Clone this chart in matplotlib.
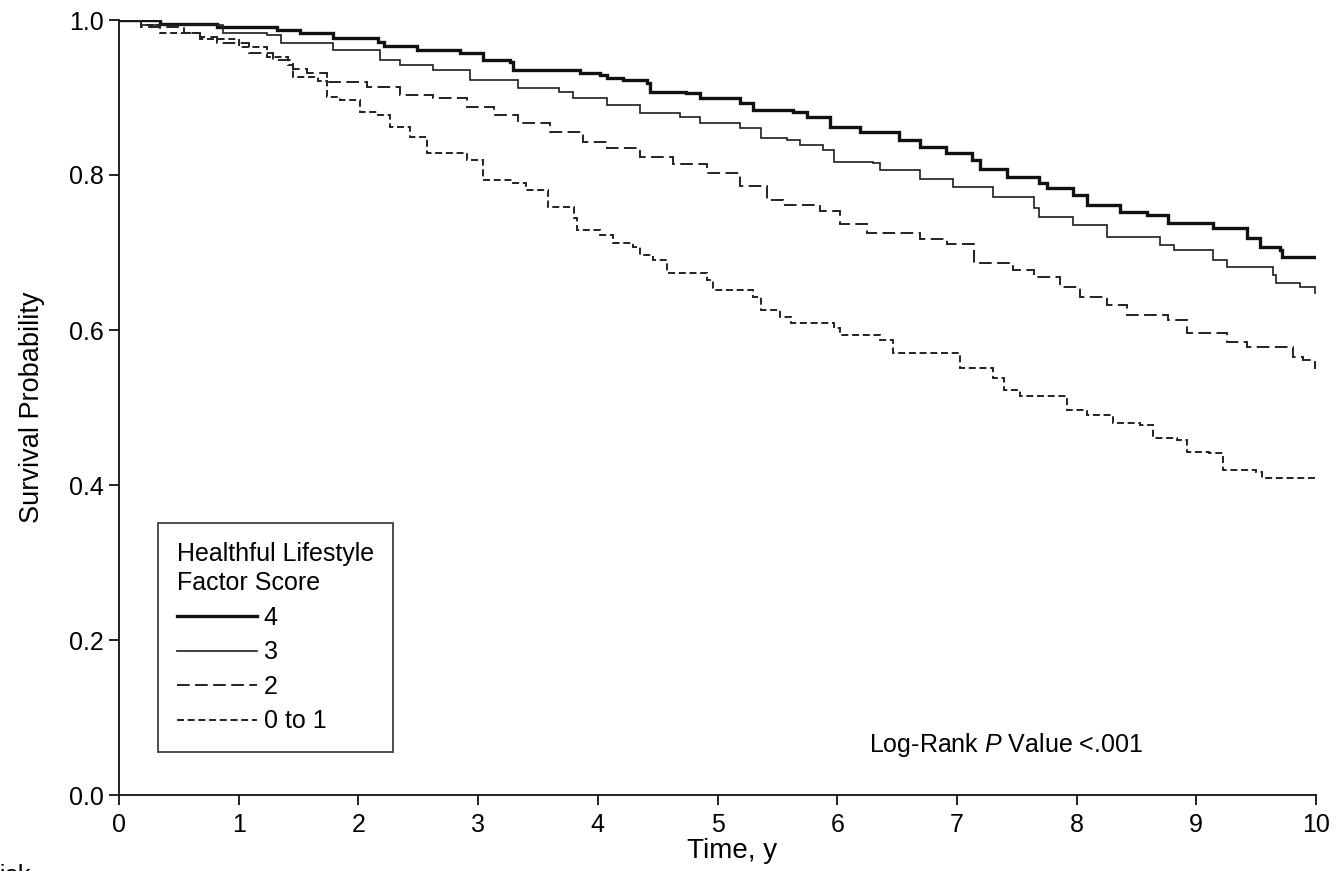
import matplotlib
matplotlib.use("Agg")
import matplotlib.pyplot as plt
from matplotlib.lines import Line2D

plt.rcParams["font.family"] = ["Liberation Sans", "DejaVu Sans"]
plt.rcParams["mathtext.fontset"] = "custom"
plt.rcParams["mathtext.it"] = "Liberation Sans:italic"
plt.rcParams["mathtext.rm"] = "Liberation Sans"

# Kaplan-Meier step points (time in years, survival probability)
t_score4 = [0, 0.34, 0.82, 1.32, 1.51, 1.79, 2.16, 2.21, 2.49, 2.85, 3.04, 3.27, 3.29,
            3.85, 4.02, 4.08, 4.21, 4.41, 4.44, 4.74, 4.85, 5.19, 5.30, 5.63, 5.75,
            5.94, 6.19, 6.52, 6.69, 6.91, 7.13, 7.19, 7.42, 7.69, 7.75, 7.97, 8.09,
            8.36, 8.59, 8.76, 9.14, 9.42, 9.53, 9.70, 9.72, 10.0]
s_score4 = [1.0, 0.995, 0.991, 0.987, 0.983, 0.977, 0.972, 0.966, 0.961, 0.957, 0.948,
            0.946, 0.936, 0.932, 0.929, 0.925, 0.923, 0.919, 0.907, 0.906, 0.899, 0.893,
            0.884, 0.881, 0.875, 0.862, 0.855, 0.845, 0.836, 0.829, 0.819, 0.808, 0.797,
            0.790, 0.783, 0.774, 0.761, 0.752, 0.748, 0.738, 0.732, 0.719, 0.707, 0.703,
            0.694, 0.694]

t_score3 = [0, 0.18, 0.87, 1.24, 1.35, 1.79, 2.18, 2.35, 2.62, 2.93, 3.33, 3.68, 3.79,
            4.08, 4.35, 4.69, 4.85, 5.19, 5.36, 5.58, 5.69, 5.88, 5.97, 6.30, 6.36,
            6.69, 6.97, 7.30, 7.64, 7.69, 7.97, 8.25, 8.70, 8.81, 9.14, 9.26, 9.64,
            9.67, 9.87, 9.99, 10.0]
s_score3 = [1.0, 0.993, 0.983, 0.981, 0.970, 0.961, 0.948, 0.942, 0.935, 0.923, 0.912,
            0.907, 0.899, 0.890, 0.880, 0.875, 0.867, 0.861, 0.848, 0.845, 0.839, 0.832,
            0.817, 0.815, 0.806, 0.795, 0.785, 0.772, 0.757, 0.746, 0.735, 0.720, 0.710,
            0.703, 0.690, 0.681, 0.671, 0.661, 0.655, 0.648, 0.648]

t_score2 = [0, 0.18, 0.54, 0.68, 0.82, 1.09, 1.29, 1.45, 1.57, 1.74, 2.07, 2.35, 2.62,
            2.91, 3.13, 3.33, 3.60, 3.88, 4.08, 4.35, 4.63, 4.91, 5.19, 5.41, 5.55,
            5.86, 6.02, 6.25, 6.69, 6.92, 7.14, 7.47, 7.64, 7.86, 8.03, 8.25, 8.42,
            8.76, 8.92, 9.26, 9.42, 9.81, 9.89, 9.99, 10.0]
s_score2 = [1.0, 0.991, 0.983, 0.978, 0.970, 0.957, 0.948, 0.937, 0.932, 0.920, 0.914,
            0.903, 0.899, 0.888, 0.877, 0.867, 0.855, 0.843, 0.835, 0.823, 0.814, 0.803,
            0.786, 0.768, 0.761, 0.754, 0.737, 0.725, 0.717, 0.711, 0.686, 0.677, 0.668,
            0.655, 0.642, 0.632, 0.619, 0.613, 0.596, 0.585, 0.578, 0.565, 0.561, 0.551,
            0.551]

t_score01 = [0, 0.18, 0.34, 0.68, 1.00, 1.24, 1.41, 1.45, 1.66, 1.74, 1.85, 2.01, 2.16,
             2.26, 2.43, 2.57, 2.91, 3.04, 3.29, 3.40, 3.58, 3.80, 3.83, 4.02, 4.13,
             4.29, 4.35, 4.46, 4.58, 4.91, 4.96, 5.30, 5.36, 5.52, 5.61, 5.97, 6.02,
             6.36, 6.47, 7.03, 7.30, 7.39, 7.53, 7.92, 8.09, 8.30, 8.53, 8.64, 8.84,
             8.92, 9.11, 9.22, 9.50, 9.55, 10.0]
s_score01 = [1.0, 0.994, 0.983, 0.976, 0.965, 0.952, 0.942, 0.926, 0.921, 0.900, 0.897,
             0.881, 0.877, 0.862, 0.849, 0.828, 0.819, 0.794, 0.790, 0.781, 0.759, 0.745,
             0.729, 0.723, 0.712, 0.707, 0.697, 0.690, 0.674, 0.665, 0.652, 0.643, 0.626,
             0.617, 0.609, 0.603, 0.594, 0.587, 0.570, 0.551, 0.538, 0.523, 0.515, 0.497,
             0.490, 0.480, 0.477, 0.461, 0.458, 0.443, 0.441, 0.419, 0.417, 0.409, 0.409]

x_ticks = [0, 1, 2, 3, 4, 5, 6, 7, 8, 9, 10]
y_ticks = [0.0, 0.2, 0.4, 0.6, 0.8, 1.0]
legend_labels = ["4", "3", "2", "0 to 1"]

W, H = 1337, 871
fig = plt.figure(figsize=(W / 100, H / 100), dpi=100)
ax = fig.add_axes([119 / W, 1 - 795 / H, (1316 - 119) / W, (795 - 20) / H])

styles = [
    dict(color="#111111", lw=2.4, ls="-"),
    dict(color="#1e1e1e", lw=1.2, ls="-"),
    dict(color="#222222", lw=1.4, ls=(0, (6.5, 2.8))),
    dict(color="#222222", lw=1.4, ls=(0, (3.6, 1.9))),
]
series = [(t_score4, s_score4), (t_score3, s_score3),
          (t_score2, s_score2), (t_score01, s_score01)]
for (t, s), st in zip(series, styles):
    ax.plot(t, s, drawstyle="steps-post", solid_joinstyle="miter",
            dash_joinstyle="miter", **st)

ax.set_xlim(0, 10)
ax.set_ylim(0, 1.0)
ax.set_xticks(x_ticks)
ax.set_xticklabels([str(v) for v in x_ticks])
ax.set_yticks(y_ticks)
ax.set_yticklabels([f"{v:.1f}" for v in y_ticks])
for side in ("top", "right"):
    ax.spines[side].set_visible(False)
for side in ("left", "bottom"):
    ax.spines[side].set_linewidth(1.3)
    ax.spines[side].set_color("#111111")
ax.tick_params(axis="both", direction="out", length=7, width=1.3,
               color="#111111", labelsize=18, pad=4)
ax.tick_params(axis="x", pad=6)

ax.set_ylabel("Survival Probability", fontsize=19.5, labelpad=17)
fig.text(732 / W, 1 - 858 / H, "Time, y", fontsize=20, ha="center", va="baseline")

ax.text(0.6265, (795 - 752) / 775, r"Log-Rank $\mathit{P}$ Value <.001",
        transform=ax.transAxes, fontsize=18, ha="left", va="baseline")

handles = [Line2D([], [], **st) for st in styles]
leg = ax.legend(handles, legend_labels, title="Healthful Lifestyle\nFactor Score",
                loc="upper left", bbox_to_anchor=((158 - 119) / 1197, (795 - 523) / 775),
                borderaxespad=0, frameon=True, fancybox=False, fontsize=18,
                title_fontsize=18, handlelength=3.2, handletextpad=0.28,
                labelspacing=0.42, borderpad=0.75, alignment="left")
leg.get_title().set_linespacing(1.3)
leg.get_frame().set_edgecolor("#111111")
leg.get_frame().set_linewidth(1.3)

fig.text(30 / W, 1 - 864 / H, "No. at risk", fontsize=18, ha="right", va="top")

fig.savefig("out.png", dpi=100)
